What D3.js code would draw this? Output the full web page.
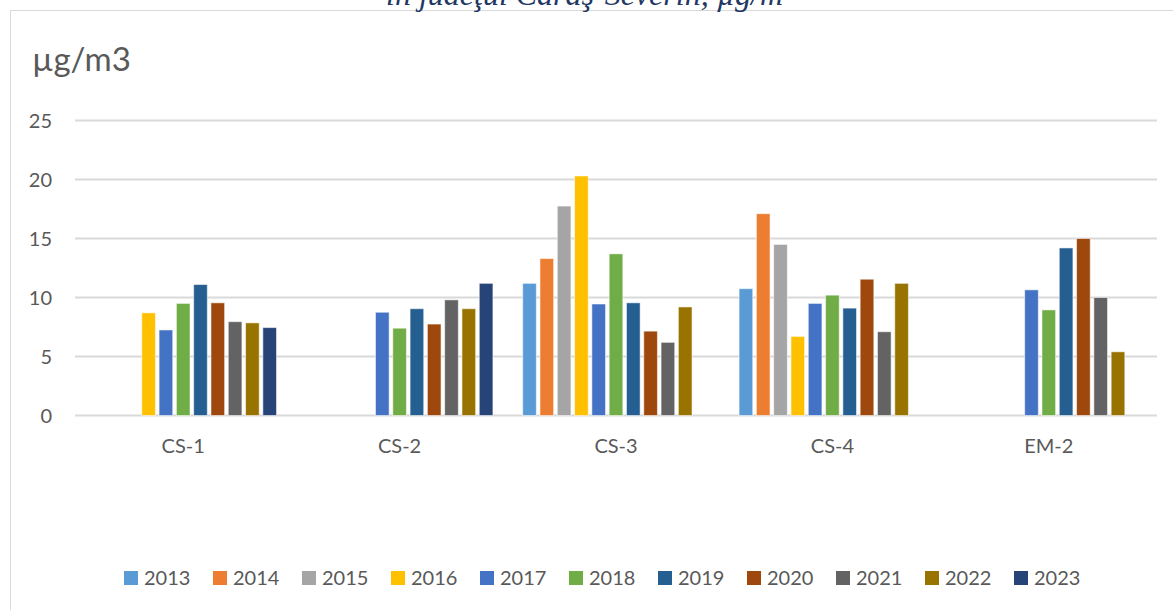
<!DOCTYPE html>
<meta charset="utf-8">

<head>
  <title>PM10 CS stations</title>
</head>

<style>
  body { margin: 0; background: #fff; }
  text { font-family: Lato, 'Noto Sans', sans-serif; fill: #595959; }
</style>

<body>
  <svg width="1173" height="610"></svg>

  <script src="https://cdn.jsdelivr.net/npm/d3@7"></script>
  <script>
    var stations = ['CS-1', 'CS-2', 'CS-3', 'CS-4', 'EM-2'];
    var years = ['2013', '2014', '2015', '2016', '2017', '2018', '2019', '2020', '2021', '2022', '2023'];
    var yTicks = [0, 5, 10, 15, 20, 25];

    // one value per year, null = no data
    var cs1 = [null, null, null, 8.7, 7.25, 9.5, 11.1, 9.55, 7.95, 7.85, 7.45];
    var cs2 = [null, null, null, null, 8.75, 7.4, 9.05, 7.75, 9.8, 9.05, 11.2];
    var cs3 = [11.2, 13.3, 17.75, 20.3, 9.45, 13.7, 9.55, 7.15, 6.2, 9.2, null];
    var cs4 = [10.75, 17.1, 14.5, 6.7, 9.5, 10.2, 9.1, 11.55, 7.1, 11.2, null];
    var em2 = [null, null, null, null, 10.65, 8.95, 14.2, 15.0, 10.0, 5.4, null];

    var colors = ['#5B9BD5', '#ED7D31', '#A5A5A5', '#FFC000', '#4472C4', '#70AD47',
      '#255E91', '#9E480E', '#636363', '#997300', '#264478'];

    var rows = [cs1, cs2, cs3, cs4, em2].map(function (vals, i) {
      return { station: stations[i], values: vals };
    });

    var svg = d3.select('svg');

    // chart frame
    svg.append('rect')
      .attr('x', 10.5).attr('y', 10.5)
      .attr('width', 1200).attr('height', 700)
      .attr('fill', '#fff')
      .attr('stroke', '#d9d9d9');

    // title sits above the frame, only its lower part is visible
    svg.append('text')
      .attr('x', 386).attr('y', 5)
      .style('font-family', "'Liberation Serif', serif")
      .style('font-style', 'italic')
      .style('font-size', '32px')
      .style('fill', '#1f3864')
      .text('în judeţul Caraş-Severin, µg/m³');

    var x0 = d3.scaleBand().domain(stations).range([75, 1157]);
    var x1 = d3.scaleBand().domain(years).range([0, x0.bandwidth()])
      .paddingInner(0.21).paddingOuter(0.86);
    var y = d3.scaleLinear().domain([0, 25]).range([415.5, 120.5]);

    // grid
    svg.append('g')
      .selectAll('line')
      .data(yTicks)
      .enter()
      .append('line')
      .attr('x1', 75).attr('x2', 1157)
      .attr('y1', d => y(d)).attr('y2', d => y(d))
      .attr('stroke', '#d9d9d9')
      .attr('stroke-width', 1.8);

    // y labels
    svg.append('g')
      .selectAll('text')
      .data(yTicks)
      .enter()
      .append('text')
      .attr('x', 52)
      .attr('y', d => y(d) + 7)
      .attr('text-anchor', 'end')
      .style('font-size', '20px')
      .text(d => d);

    svg.append('text')
      .attr('x', 32).attr('y', 71)
      .style('font-size', '33px')
      .text('µg/m3');

    // bars
    svg.append('g')
      .selectAll('g')
      .data(rows)
      .enter()
      .append('g')
      .attr('transform', d => 'translate(' + x0(d.station) + ',0)')
      .selectAll('rect')
      .data(d => d.values.map((v, i) => ({ year: years[i], value: v, i: i })).filter(e => e.value != null))
      .enter()
      .append('rect')
      .attr('x', d => x1(d.year))
      .attr('width', x1.bandwidth())
      .attr('y', d => y(d.value))
      .attr('height', d => y(0) - y(d.value))
      .attr('fill', d => colors[d.i])
      .attr('stroke', '#fff')
      .attr('stroke-opacity', 0.55)
      .attr('stroke-width', 1);

    // category labels
    svg.append('g')
      .selectAll('text')
      .data(stations)
      .enter()
      .append('text')
      .attr('x', d => x0(d) + x0.bandwidth() / 2)
      .attr('y', 453)
      .attr('text-anchor', 'middle')
      .style('font-size', '20px')
      .text(d => d);

    // legend
    var legend = svg.append('g')
      .selectAll('g')
      .data(years)
      .enter()
      .append('g')
      .attr('transform', (d, i) => 'translate(' + (124 + i * 89) + ',571)');
    legend.append('rect')
      .attr('width', 14).attr('height', 14)
      .attr('fill', (d, i) => colors[i]);
    legend.append('text')
      .attr('x', 20).attr('y', 14)
      .style('font-size', '20px')
      .text(d => d);
  </script>
</body>

</html>
